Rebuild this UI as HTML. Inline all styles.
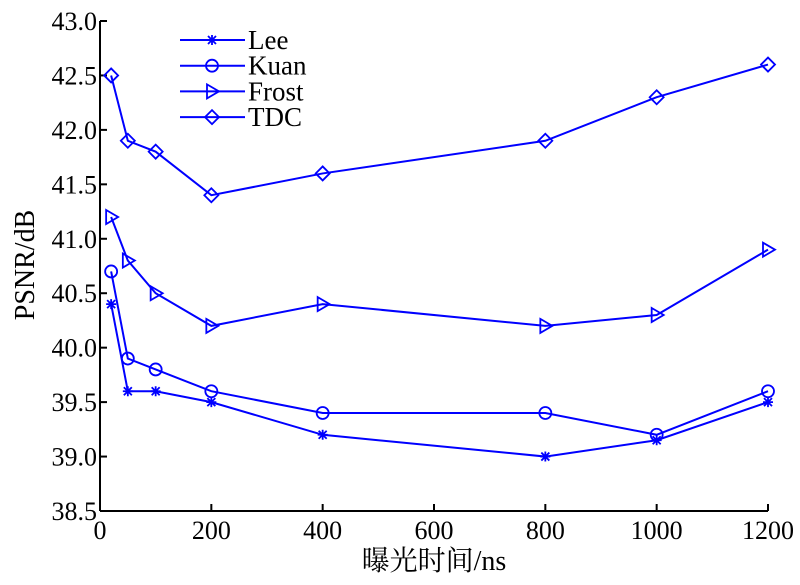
<!DOCTYPE html>
<html><head><meta charset="utf-8"><style>
body{margin:0;background:#fff;width:800px;height:580px;overflow:hidden}
svg text{font-family:"Liberation Serif","Noto Serif CJK SC",serif;fill:#000}
</style></head><body>
<svg id="c" width="800" height="580"></svg>
<script>
const xValues=[20,50,100,200,400,800,1000,1200];
const leeValues=[40.4,39.6,39.6,39.5,39.2,39.0,39.15,39.5];
const kuanValues=[40.7,39.9,39.8,39.6,39.4,39.4,39.2,39.6];
const frostValues=[41.2,40.8,40.5,40.2,40.4,40.2,40.3,40.9];
const tdcValues=[42.5,41.9,41.8,41.4,41.6,41.9,42.3,42.6];
const xTicks=[0,200,400,600,800,1000,1200];
const yTicks=[38.5,39.0,39.5,40.0,40.5,41.0,41.5,42.0,42.5,43.0];
const seriesNames=["Lee","Kuan","Frost","TDC"];

const NS="http://www.w3.org/2000/svg";
const svg=document.getElementById('c');
const X0=100,X1=768,Y0=511,Y1=21;
function sx(v){return X0+(v-0)/(1200-0)*(X1-X0);}
function sy(v){return Y0-(v-38.5)/(43-38.5)*(Y0-Y1);}
function el(t,a){const e=document.createElementNS(NS,t);for(const k in a)e.setAttribute(k,a[k]);svg.appendChild(e);return e;}
const B='#0000ff';
let ax=el('line',{x1:X0,y1:Y0,x2:X1,y2:Y0,stroke:'#000','stroke-width':2});


let ay=el('line',{x1:X0,y1:Y0,x2:X0,y2:Y1,stroke:'#000','stroke-width':2});


xTicks.forEach(v=>{
 el('line',{x1:sx(v),y1:Y0,x2:sx(v),y2:Y0-7,stroke:'#000','stroke-width':2});
 const t=el('text',{x:sx(v),y:Y0+28,'text-anchor':'middle','font-size':26});
 t.textContent=v;
 
 
});
yTicks.forEach(v=>{
 el('line',{x1:X0,y1:sy(v),x2:X0+7,y2:sy(v),stroke:'#000','stroke-width':2});
 const t=el('text',{x:X0-3,y:sy(v)+9,'text-anchor':'end','font-size':26});
 t.textContent=v.toFixed(1);
 
 
});
let xt=el('text',{x:434,y:570,'text-anchor':'middle','font-size':28});
xt.textContent='曝光时间/ns';


let yt=el('text',{x:0,y:0,'text-anchor':'middle','font-size':28,transform:'translate(34,265) rotate(-90)'});
yt.textContent='PSNR/dB';



function marker(kind,x,y){
 const a={fill:'none',stroke:B,'stroke-width':1.8};
 let m;
 if(kind===0){m=el('path',Object.assign({d:`M${x-5},${y}H${x+5}M${x},${y-5}V${y+5}M${x-4},${y-4}L${x+4},${y+4}M${x-4},${y+4}L${x+4},${y-4}`},a));}
 else if(kind===1){m=el('circle',Object.assign({cx:x,cy:y,r:6},a));}
 else if(kind===2){m=el('path',Object.assign({d:`M${x-5},${y-7}L${x+7},${y}L${x-5},${y+7}Z`},a));}
 else {m=el('path',Object.assign({d:`M${x},${y-7}L${x+7},${y}L${x},${y+7}L${x-7},${y}Z`},a));}
 return m;
}
const all=[leeValues,kuanValues,frostValues,tdcValues];
all.forEach((vals,k)=>{
 const p=el('polyline',{points:vals.map((v,i)=>sx(xValues[i])+','+sy(v)).join(' '),fill:'none',stroke:B,'stroke-width':2});
 
 
 vals.forEach((v,i)=>{
  const m=marker(k,sx(xValues[i]),sy(v));
  
  
 });
 const ly=40+k*25.7;
 const ll=el('line',{x1:180,y1:ly,x2:245,y2:ly,stroke:B,'stroke-width':2});
 
 
 const lm=marker(k,212,ly);
 
 
 const lt=el('text',{x:248,y:ly+9,'font-size':27});
 lt.textContent=seriesNames[k];
 
 
});
</script>
</body></html>
